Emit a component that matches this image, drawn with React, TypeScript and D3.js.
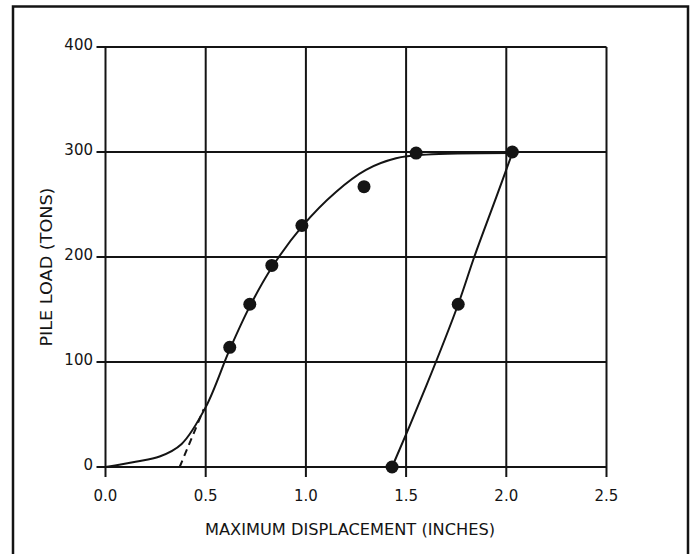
import { useEffect, useRef } from 'react'
import * as d3 from 'd3'

const W = 693
const H = 554

// measured load points (inches, tons)
const pointX = [0.62, 0.72, 0.83, 0.98, 1.29, 1.55, 2.03, 1.76, 1.43]
const pointY = [114, 155, 192, 230, 267, 299, 300, 155, 0]

// loading curve
const loadX = [0, 0.15, 0.27, 0.38, 0.5, 0.62, 0.72, 0.83, 0.98, 1.15, 1.3, 1.45, 1.6, 2.03]
const loadY = [0, 5, 10, 22, 57, 112, 153, 190, 229, 262, 283, 294, 297.5, 299]

// unloading curve
const unloadX = [2.03, 1.95, 1.84, 1.76, 1.6, 1.43]
const unloadY = [299, 257, 200, 155, 77, 0]

// dashed extension of the straight part
const dashX = [0.37, 0.49]
const dashY = [0, 55]

const xTicks = [0, 0.5, 1.0, 1.5, 2.0, 2.5]
const yTicks = [0, 100, 200, 300, 400]

const FONT = '"DejaVu Sans", sans-serif'
const INK = '#141414'

export default function App() {
  const svgRef = useRef<SVGSVGElement>(null)

  useEffect(() => {
    if (!svgRef.current) return
    const svg = d3.select(svgRef.current)
    svg.selectAll('*').remove()

    const x = d3.scaleLinear().domain([0, 2.5]).range([105.5, 606.5])
    const y = d3.scaleLinear().domain([0, 400]).range([467, 47])

    // outer frame
    svg.append('path')
      .attr('d', 'M13,570 V6.5 H688 V570')
      .attr('fill', 'none').attr('stroke', INK).attr('stroke-width', 2.5)

    // grid + tick marks
    const g = svg.append('g').attr('stroke', INK).attr('stroke-width', 2)
    g.selectAll('line.v').data(xTicks).join('line')
      .attr('x1', d => x(d)).attr('x2', d => x(d))
      .attr('y1', y(400)).attr('y2', y(0) + 10)
    g.selectAll('line.h').data(yTicks).join('line')
      .attr('y1', d => y(d)).attr('y2', d => y(d))
      .attr('x1', x(0) - 9).attr('x2', x(2.5))

    // tick labels
    svg.append('g').selectAll('text').data(yTicks).join('text')
      .attr('x', 93).attr('y', d => y(d) - 2)
      .attr('text-anchor', 'end').attr('dominant-baseline', 'central')
      .attr('font-family', FONT).attr('font-size', 15).attr('fill', INK)
      .text(d => String(d))

    svg.append('g').selectAll('text').data(xTicks).join('text')
      .attr('x', d => x(d)).attr('y', 501)
      .attr('text-anchor', 'middle')
      .attr('font-family', FONT).attr('font-size', 15).attr('fill', INK)
      .text(d => d.toFixed(1))

    // axis titles
    svg.append('text')
      .attr('x', 350).attr('y', 535)
      .attr('text-anchor', 'middle')
      .attr('font-family', FONT).attr('font-size', 15).attr('fill', INK)
      .attr('textLength', 290).attr('lengthAdjust', 'spacingAndGlyphs')
      .text('MAXIMUM DISPLACEMENT (INCHES)')

    svg.append('text')
      .attr('transform', 'translate(52,267) rotate(-90)')
      .attr('text-anchor', 'middle')
      .attr('font-family', FONT).attr('font-size', 15).attr('fill', INK)
      .attr('textLength', 159).attr('lengthAdjust', 'spacingAndGlyphs')
      .text('PILE LOAD (TONS)')

    const line = d3.line<[number, number]>()
      .x(d => x(d[0])).y(d => y(d[1]))
      .curve(d3.curveCatmullRom.alpha(0.5))

    const zip = (a: number[], b: number[]) => a.map((v, i) => [v, b[i]] as [number, number])

    svg.append('path').datum(zip(loadX, loadY))
      .attr('fill', 'none').attr('stroke', INK).attr('stroke-width', 2).attr('d', line)
    svg.append('path').datum(zip(unloadX, unloadY))
      .attr('fill', 'none').attr('stroke', INK).attr('stroke-width', 2).attr('d', line)
    svg.append('path').datum(zip(dashX, dashY))
      .attr('fill', 'none').attr('stroke', INK).attr('stroke-width', 2)
      .attr('stroke-dasharray', '7,5').attr('d', d3.line<[number, number]>().x(d => x(d[0])).y(d => y(d[1])))

    // data points
    svg.append('g').selectAll('circle').data(zip(pointX, pointY)).join('circle')
      .attr('cx', d => x(d[0])).attr('cy', d => y(d[1])).attr('r', 6.5)
      .attr('fill', INK)
  }, [])

  return (
    <svg ref={svgRef} width={W} height={H}
      style={{ position: 'absolute', left: 0, top: 0, background: '#fff' }} />
  )
}
